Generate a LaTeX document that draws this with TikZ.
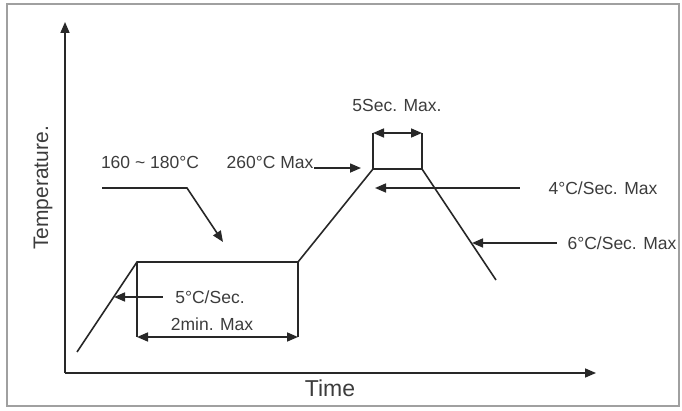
\documentclass[tikz,border=0pt]{standalone}
\usepackage{fontspec}
\setmainfont{Liberation Sans}
\usetikzlibrary{arrows.meta}
\definecolor{curve}{RGB}{40,40,40}
\definecolor{lbl}{RGB}{60,60,60}
\definecolor{frame}{RGB}{160,160,160}

\begin{document}
\begin{tikzpicture}[x=1pt,y=-1pt,>={Triangle[length=11pt,width=9pt]},
line width=1.6pt,draw=curve]
\tikzstyle{every node}=[text=lbl,inner sep=0pt,font=\fontsize{17.5}{19}\selectfont]
\tikzstyle{axis label}=[font=\fontsize{23}{26}\selectfont]

\useasboundingbox (0,0) rectangle (682,411);
\draw[frame,line width=1.2pt] (7,4) rectangle (679,406);

% axes
\coordinate (O)    at (65,373);
\coordinate (Ytop) at (65,22);
\coordinate (Xend) at (596,373);
\draw[->] (O) -- (Ytop);
\draw[->] (O) -- (Xend);
\node[axis label]           (time) at (330,388) {Time};
\node[axis label,rotate=90,font=\fontsize{21}{24}\selectfont] (temp) at (43,188) {Temperature.};

% reflow profile
\coordinate (s0) at (77,352);
\coordinate (s1) at (137,262);
\coordinate (s2) at (298,262);
\coordinate (s3) at (373,169);
\coordinate (s4) at (422,169);
\coordinate (s5) at (496,280);
\draw (s0) -- (s1) -- (s2) -- (s3) -- (s4) -- (s5);

% soak time
\coordinate (b1) at (137,337);
\coordinate (b2) at (298,337);
\draw (s1) -- (b1);
\draw (s2) -- (b2);
\draw[<->] (b1) -- (b2);
\node (soaktime) at (212,324) {2min. Max};

% peak time
\coordinate (p1) at (373,133);
\coordinate (p2) at (422,133);
\draw (s3) -- (p1);
\draw (s4) -- (p2);
\draw[<->] (p1) -- (p2);
\node (peaktime) at (397,105) {5Sec. Max.};

% ramp up
\node (ramp) at (210,297) {5°C/Sec.};
\coordinate (r1) at (114,297);
\draw[->] ([xshift=-12pt]ramp.west) -- (r1);

% soak temperature
\node (soak) at (150,162) {160 \textasciitilde{} 180°C};
\coordinate (k0) at (102,188);
\coordinate (k1) at (187,188);
\coordinate (k2) at (223,242);
\draw[->] (k0) -- (k1) -- (k2);

% peak temperature
\node (peak) at (270,162) {260°C Max};
\coordinate (pk) at (361,169);
\draw[->] (peak.base east) -- (peak.base east -| pk);

% cooling
\node (cool1) at (603,188) {4°C/Sec. Max};
\coordinate (c1) at (375,188);
\draw[->] ([xshift=-28pt]cool1.west) -- (c1);

\node (cool2) at (622,243) {6°C/Sec. Max};
\coordinate (c2) at (472,243);
\draw[->] ([xshift=-10pt]cool2.west) -- (c2);
\end{tikzpicture}
\end{document}
